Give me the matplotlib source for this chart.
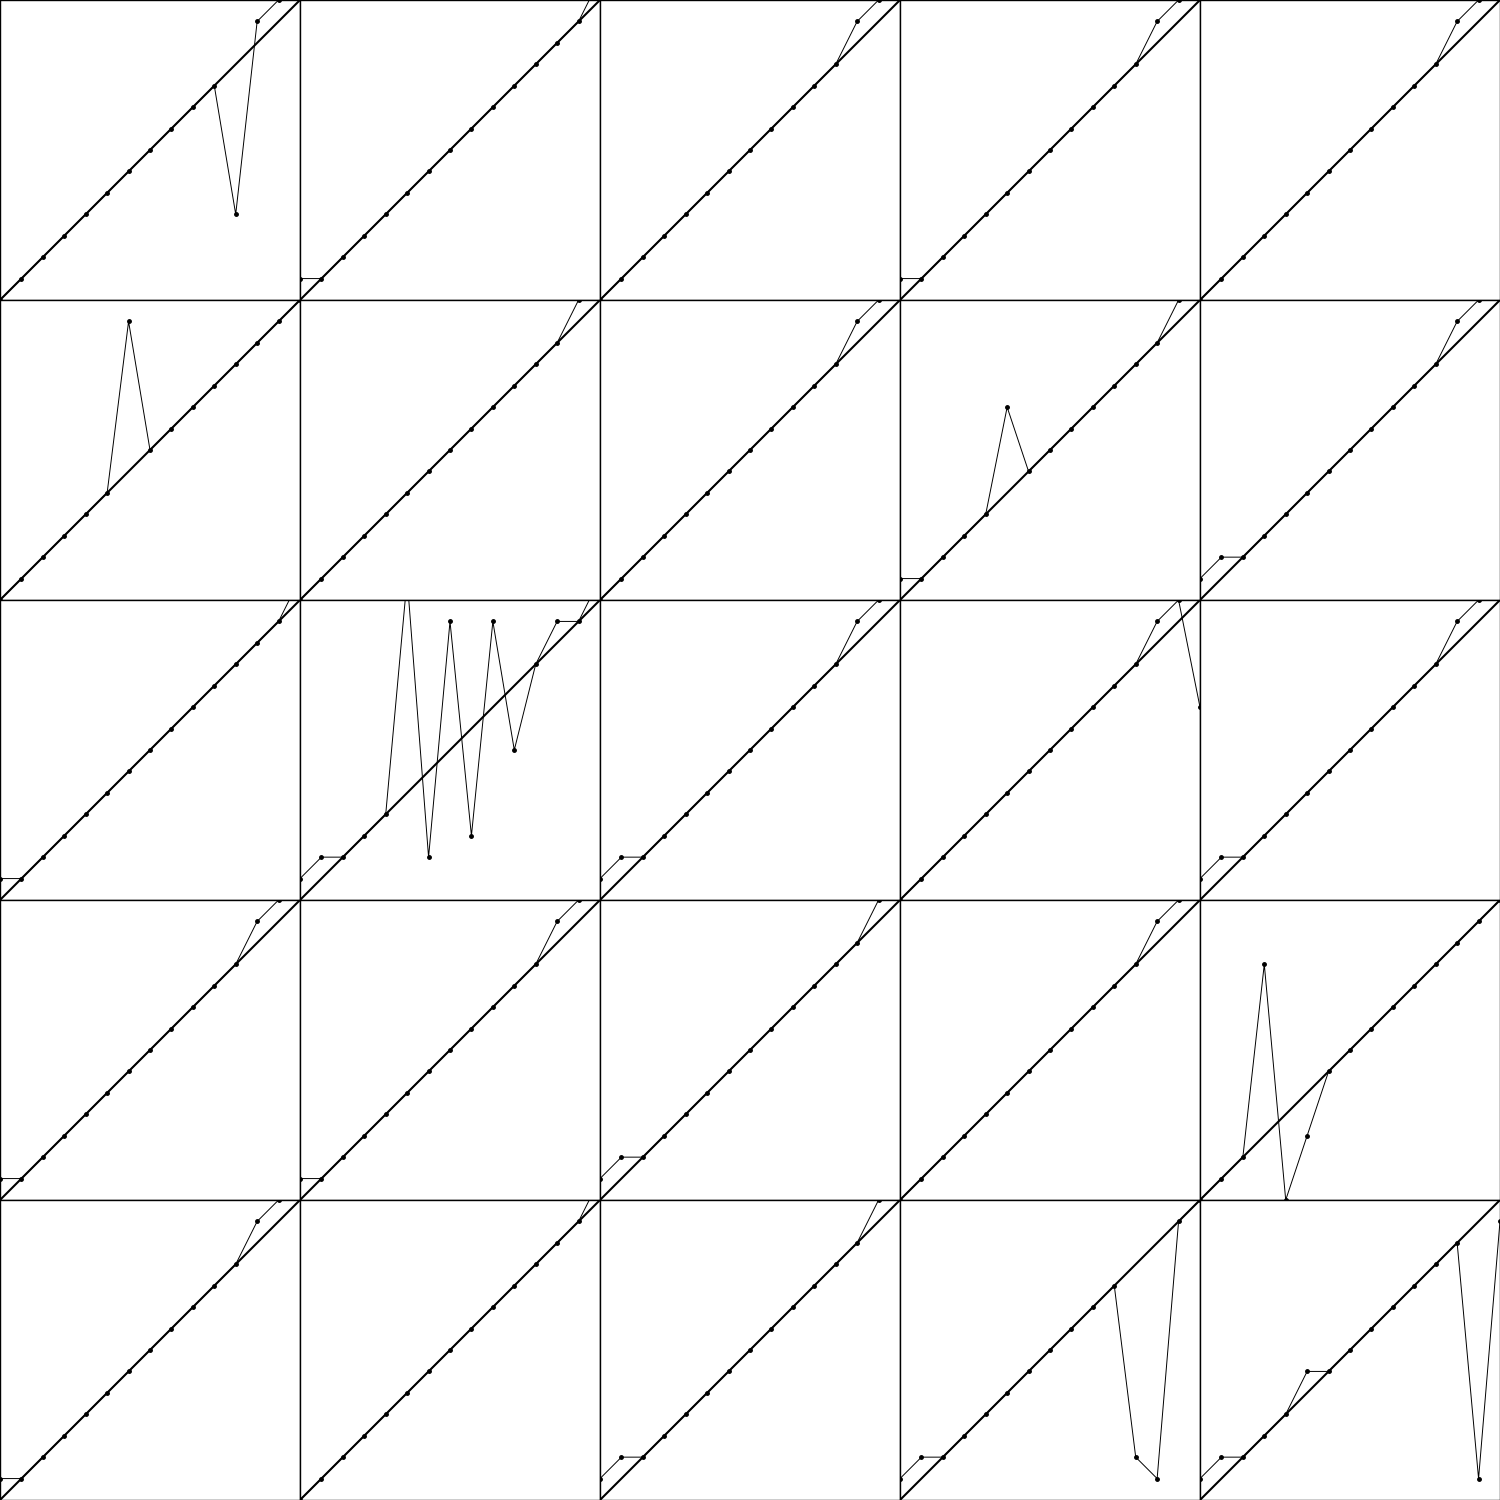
import matplotlib
matplotlib.use("Agg")
import matplotlib.pyplot as plt

# positions 0..14 along the x axis
idx = [0, 1, 2, 3, 4, 5, 6, 7, 8, 9, 10, 11, 12, 13, 14]

# one list per panel
row1 = [
    [0, 1, 2, 3, 4, 5, 6, 7, 8, 9, 10, 4, 13, 14, 15],
    [1, 1, 2, 3, 4, 5, 6, 7, 8, 9, 10, 11, 12, 13, 15],
    [0, 1, 2, 3, 4, 5, 6, 7, 8, 9, 10, 11, 13, 14, 15],
    [1, 1, 2, 3, 4, 5, 6, 7, 8, 9, 10, 11, 13, 14, 15],
    [0, 1, 2, 3, 4, 5, 6, 7, 8, 9, 10, 11, 13, 14, 15],
]
row2 = [
    [0, 1, 2, 3, 4, 5, 13, 7, 8, 9, 10, 11, 12, 13, 14],
    [0, 1, 2, 3, 4, 5, 6, 7, 8, 9, 10, 11, 12, 14, 15],
    [0, 1, 2, 3, 4, 5, 6, 7, 8, 9, 10, 11, 13, 14, 15],
    [1, 1, 2, 3, 4, 9, 6, 7, 8, 9, 10, 11, 12, 14, 15],
    [1, 2, 2, 3, 4, 5, 6, 7, 8, 9, 10, 11, 13, 14, 15],
]
row3 = [
    [1, 1, 2, 3, 4, 5, 6, 7, 8, 9, 10, 11, 12, 13, 15],
    [1, 2, 2, 3, 4, 15, 2, 13, 3, 13, 7, 11, 13, 13, 15],
    [1, 2, 2, 3, 4, 5, 6, 7, 8, 9, 10, 11, 13, 14, 15],
    [0, 1, 2, 3, 4, 5, 6, 7, 8, 9, 10, 11, 13, 14, 9],
    [1, 2, 2, 3, 4, 5, 6, 7, 8, 9, 10, 11, 13, 14, 15],
]
row4 = [
    [1, 1, 2, 3, 4, 5, 6, 7, 8, 9, 10, 11, 13, 14, 15],
    [1, 1, 2, 3, 4, 5, 6, 7, 8, 9, 10, 11, 13, 14, 15],
    [1, 2, 2, 3, 4, 5, 6, 7, 8, 9, 10, 11, 12, 14, 15],
    [0, 1, 2, 3, 4, 5, 6, 7, 8, 9, 10, 11, 13, 14, 15],
    [0, 1, 2, 11, 0, 3, 6, 7, 8, 9, 10, 11, 12, 13, 14],
]
row5 = [
    [1, 1, 2, 3, 4, 5, 6, 7, 8, 9, 10, 11, 13, 14, 15],
    [0, 1, 2, 3, 4, 5, 6, 7, 8, 9, 10, 11, 12, 13, 15],
    [1, 2, 2, 3, 4, 5, 6, 7, 8, 9, 10, 11, 12, 14, 15],
    [1, 2, 2, 3, 4, 5, 6, 7, 8, 9, 10, 2, 1, 13, 14],
    [1, 2, 2, 3, 4, 6, 6, 7, 8, 9, 10, 11, 12, 1, 13],
]
rows = [row1, row2, row3, row4, row5]

fig, axes = plt.subplots(5, 5, figsize=(15, 15), dpi=100)
fig.subplots_adjust(left=0, right=1, bottom=0, top=1, wspace=0, hspace=0)

for r in range(5):
    for c in range(5):
        ax = axes[r][c]
        # reference line y = x
        ax.axline((0, 0), slope=1, color='black', lw=1.5)
        ax.plot(idx, rows[r][c], color='black', lw=0.7,
                marker='o', markersize=2.5)
        ax.set_xlim(0, 14)
        ax.set_ylim(0, 14)
        ax.set_xticks([])
        ax.set_yticks([])
        for s in ax.spines.values():
            s.set_linewidth(1.0)

fig.savefig('out.png', dpi=100)
